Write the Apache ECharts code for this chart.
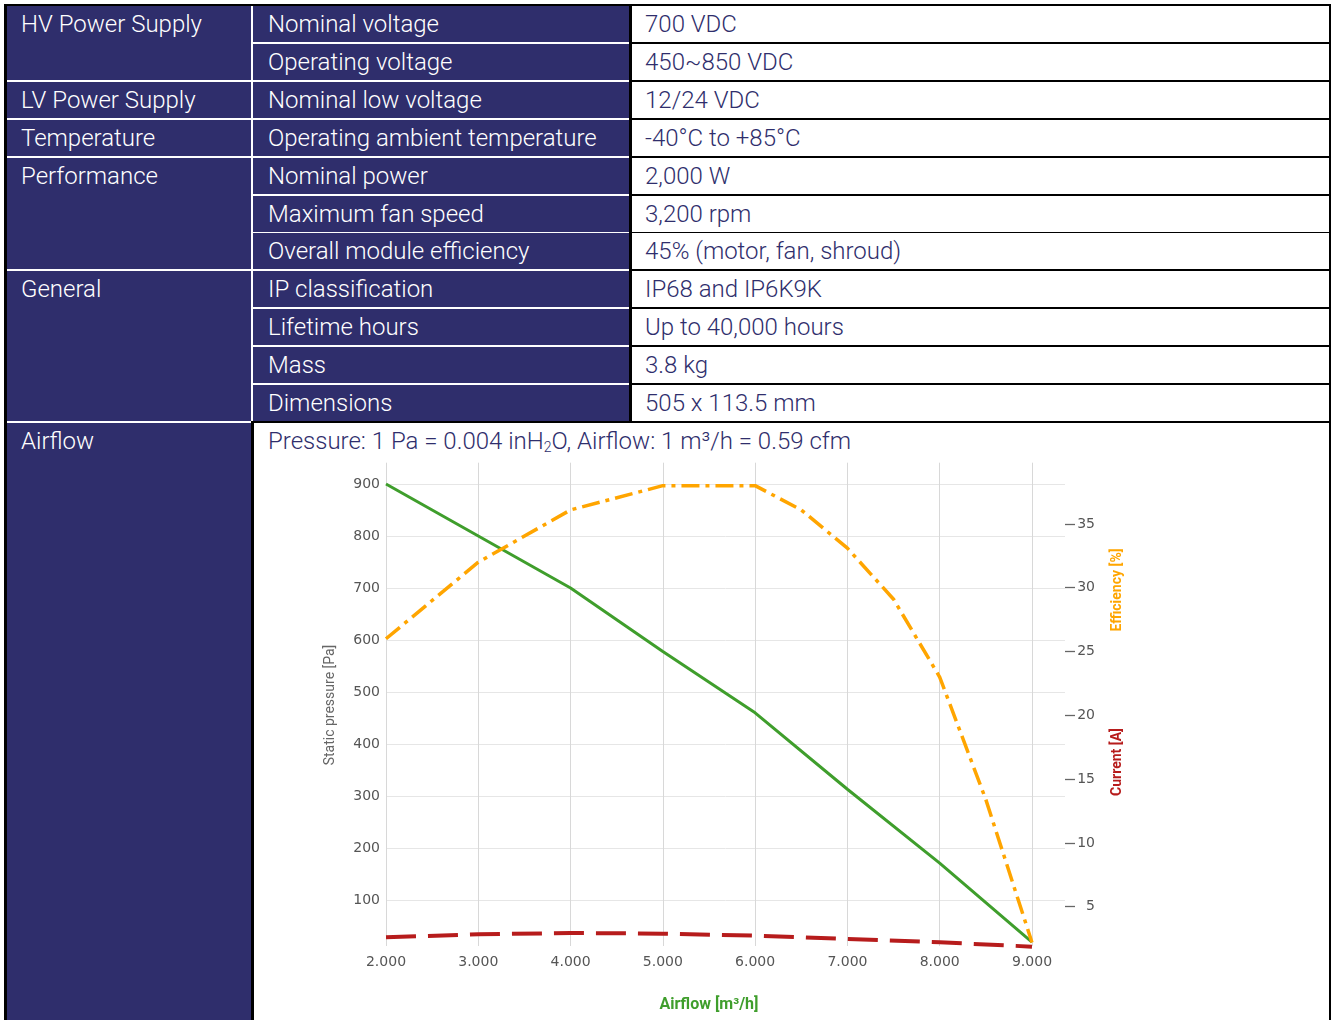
<!DOCTYPE html>
<html>
<head>
<meta charset="utf-8">
<script src="https://cdn.jsdelivr.net/npm/echarts@6.0.0/dist/echarts.min.js"></script>
<style>
  html, body { margin: 0; padding: 0; background: #fff; width: 1331px; height: 1020px; overflow: hidden; }
  .abs { position: absolute; box-sizing: border-box; }
  .cell { font-family: Roboto, "Open Sans", sans-serif; font-weight: 300; font-size: 24px; line-height: 36px; white-space: nowrap; }
  .navy { background: #2f2e6c; color: #fff; }
  .white { background: #fff; color: #2f2e6c; }
  sub { font-size: 14px; line-height: 0; vertical-align: -3px; }
</style>
</head>
<body>
<div id="page"></div>
<div id="chart" class="abs" style="left:254px; top:452px; width:1075px; height:568px;"></div>
<script>
// ---------- table content ----------
const groups = ['HV Power Supply', 'LV Power Supply', 'Temperature', 'Performance', 'General'];
const groupRows = [2, 1, 1, 3, 4];
const parameters = ['Nominal voltage', 'Operating voltage', 'Nominal low voltage', 'Operating ambient temperature',
  'Nominal power', 'Maximum fan speed', 'Overall module efficiency', 'IP classification', 'Lifetime hours', 'Mass', 'Dimensions'];
const values = ['700 VDC', '450~850 VDC', '12/24 VDC', '-40°C to +85°C', '2,000 W', '3,200 rpm',
  '45% (motor, fan, shroud)', 'IP68 and IP6K9K', 'Up to 40,000 hours', '3.8 kg', '505 x 113.5 mm'];
const airflowLabel = 'Airflow';
const conversionNote = 'Pressure: 1 Pa = 0.004 inH<sub>2</sub>O, Airflow: 1 m³/h = 0.59 cfm';

// ---------- chart data ----------
const airflow = [2000, 3000, 4000, 5000, 6000, 7000, 8000, 9000];
const pressure = [900, 800, 700, 578, 460, 313, 171, 19];
const current = [2.6, 2.84, 2.94, 2.89, 2.73, 2.47, 2.21, 1.87];
const effAirflow = [2000, 3000, 4000, 5000, 6000, 6500, 7000, 7500, 8000, 8500, 9000];
const efficiency = [26, 32, 36.1, 38, 38, 36.1, 33.1, 29.1, 23.0, 13.4, 2.2];
const pressureTicks = [100, 200, 300, 400, 500, 600, 700, 800, 900];
const rightTicks = [5, 10, 15, 20, 25, 30, 35];
const xName = 'Airflow [m³/h]';
const yName = 'Static pressure [Pa]';
const effName = 'Efficiency [%]';
const curName = 'Current [A]';

// ---------- build table ----------
const page = document.getElementById('page');
function box(l, t, w, h, cls, html, extra) {
  const d = document.createElement('div');
  d.className = 'abs ' + (cls || '');
  d.style.left = l + 'px'; d.style.top = t + 'px'; d.style.width = w + 'px'; d.style.height = h + 'px';
  if (extra) Object.assign(d.style, extra);
  if (html !== undefined) d.innerHTML = html;
  page.appendChild(d);
  return d;
}
const rowTop = i => Math.round(6 + i * 37.9);
const rowH = 36;
// black frame
box(4, 4, 1327, 1016, '', undefined, { background: '#000' });
// white separators background for navy columns
box(7, 6, 622, 415, '', undefined, { background: '#fff' });
box(7, 421, 244, 2, '', undefined, { background: '#fff' });
// group cells (col 1)
let r = 0;
groups.forEach((g, gi) => {
  const t = rowTop(r);
  const b = rowTop(r + groupRows[gi] - 1) + rowH;
  box(7, t, 244, b - t, 'cell navy', g, { paddingLeft: '14px' });
  r += groupRows[gi];
});
box(7, 423, 244, 597, 'cell navy', airflowLabel, { paddingLeft: '14px' });
// parameter and value cells
parameters.forEach((p, i) => {
  box(253, rowTop(i), 376, rowH, 'cell navy', p, { paddingLeft: '15px' });
  box(632, rowTop(i), 697, rowH, 'cell white', values[i], { paddingLeft: '13px' });
});
// airflow content cell
box(254, 423, 1075, 597, 'cell white', conversionNote, { paddingLeft: '14px' });
page.appendChild(document.getElementById('chart'));

// ---------- chart ----------
const chart = echarts.init(document.getElementById('chart'), null, { renderer: 'canvas' });
const GL = 132, GT = 10.7;
const labelFont = { fontFamily: 'DejaVu Sans', fontSize: 14, color: '#555' };
const option = {
  animation: false,
  grid: [
    { left: GL, top: GT, width: 646, height: 483.3 },
    { left: GL, top: GT, width: 679, height: 489.3 },
    { left: GL, top: GT, width: 679, height: 507.8 }
  ],
  xAxis: [
    { gridIndex: 0, type: 'value', min: 2000, max: 9000, interval: 1000,
      axisLine: { show: false }, axisTick: { show: false },
      axisLabel: Object.assign({ margin: 9, formatter: v => (v / 1000) + '.000' }, labelFont),
      splitLine: { show: true, lineStyle: { color: '#d8d8d8', width: 1 } } },
    { gridIndex: 1, type: 'value', min: 2000, max: 9358, show: false, splitLine: { show: false } },
    { gridIndex: 2, type: 'value', min: 2000, max: 9358, show: false, splitLine: { show: false } }
  ],
  yAxis: [
    { gridIndex: 0, type: 'value', min: 0, max: 1, show: false, splitLine: { show: false } },
    { gridIndex: 1, type: 'value', min: 0, max: 941, interval: 100, position: 'left',
      axisLine: { show: false }, axisTick: { show: false },
      axisLabel: Object.assign({ margin: 6, customValues: pressureTicks }, labelFont),
      splitLine: { show: true, showMinLine: false, showMaxLine: false, lineStyle: { color: '#e6e6e6', width: 1 } } },
    { gridIndex: 2, type: 'value', min: 0, max: 39.8, interval: 5, position: 'right',
      axisLine: { show: false },
      axisTick: { show: true, length: 10, inside: false, customValues: rightTicks, lineStyle: { color: '#666', width: 1.3 } },
      axisLabel: Object.assign({ margin: 30, align: 'right', customValues: rightTicks }, labelFont),
      splitLine: { show: false } }
  ],
  graphic: [
    { type: 'text', x: 76, y: 253, rotation: Math.PI / 2,
      style: { text: yName, fill: '#666', font: '14px Roboto', align: 'center', verticalAlign: 'middle' } },
    { type: 'text', x: 863, y: 138, rotation: Math.PI / 2,
      style: { text: effName, fill: '#ffa500', font: 'bold 14px Roboto', align: 'center', verticalAlign: 'middle' } },
    { type: 'text', x: 863, y: 310, rotation: Math.PI / 2,
      style: { text: curName, fill: '#b71c1c', font: 'bold 14px Roboto', align: 'center', verticalAlign: 'middle' } },
    { type: 'text', x: 455, y: 553,
      style: { text: xName, fill: '#3f9e2c', font: 'bold 16px Roboto', align: 'center', verticalAlign: 'middle' } }
  ],
  series: [
    { name: 'Static pressure', type: 'line', xAxisIndex: 1, yAxisIndex: 1, symbol: 'none',
      data: airflow.map((x, i) => [x, pressure[i]]),
      lineStyle: { color: '#3f9e2c', width: 3 }, z: 3 },
    { name: 'Efficiency', type: 'line', xAxisIndex: 2, yAxisIndex: 2, symbol: 'none',
      data: effAirflow.map((x, i) => [x, efficiency[i]]),
      lineStyle: { color: '#ffa500', width: 3.5, type: [18, 6, 4, 6] }, z: 4 },
    { name: 'Current', type: 'line', xAxisIndex: 2, yAxisIndex: 2, symbol: 'none',
      data: airflow.map((x, i) => [x, current[i]]),
      lineStyle: { color: '#b71c1c', width: 4, type: [30, 12] }, z: 5 }
  ]
};
chart.setOption(option);
</script>
</body>
</html>
